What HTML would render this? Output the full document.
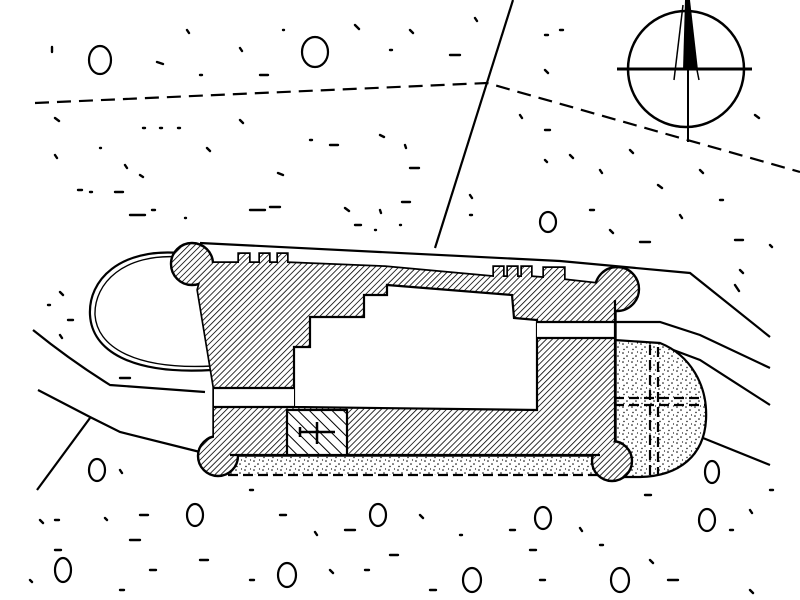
<!DOCTYPE html>
<html><head><meta charset="utf-8"><style>html,body{margin:0;padding:0;background:#fff}svg{display:block}</style></head>
<body>
<svg width="800" height="600" viewBox="0 0 800 600" xmlns="http://www.w3.org/2000/svg">
<defs>
<pattern id="h" width="4.2" height="4.2" patternUnits="userSpaceOnUse" patternTransform="rotate(45)">
<rect width="4.2" height="4.2" fill="#fff"/><line x1="0" y1="0" x2="0" y2="4.2" stroke="#000" stroke-width="1.6"/></pattern>
<pattern id="h2" width="8" height="8" patternUnits="userSpaceOnUse" patternTransform="rotate(-45)">
<rect width="8" height="8" fill="#fff"/><line x1="0" y1="0" x2="0" y2="8" stroke="#000" stroke-width="2"/></pattern>
<pattern id="d" width="9" height="9" patternUnits="userSpaceOnUse">
<rect width="9" height="9" fill="#fff"/><circle cx="2" cy="2" r="0.8" fill="#000"/><circle cx="6" cy="5" r="0.8" fill="#000"/><circle cx="3" cy="7.5" r="0.7" fill="#000"/><circle cx="7.5" cy="1" r="0.6" fill="#000"/></pattern>
</defs>
<g fill="none" stroke="#000" stroke-width="2.2">
<path d="M35 103 L487 83 L800 172" stroke-dasharray="14 8"/>
<path d="M513 0 L435 248"/>
<path d="M200 243 L560 261 L690 273 L770 337"/>
<path d="M614 322 L660 322 L700 335 L770 368"/>
<path d="M660 345 L700 360 L770 405"/>
<path d="M703 438 L770 465"/>
<path d="M33 330 Q70 360 110 385 L205 392"/>
<path d="M38 390 L90 417 L120 432 L200 452"/>
<path d="M90 418 L37 490"/>
<path d="M180 253 C120 248 88 280 90 315 C92 350 130 375 212 370"/>
<path d="M180 257 C124 253 94 283 95 315 C97 346 133 370 212 366" stroke-width="1.4"/>
</g>
<path d="M614 340 L660 343 C690 355 708 385 706 420 C704 455 680 476 640 477 L614 477 Z" fill="url(#d)" stroke="#000" stroke-width="2.2"/>
<rect x="228" y="452" width="380" height="23" fill="url(#d)"/>
<line x1="228" y1="475" x2="600" y2="475" stroke="#000" stroke-width="2.2" stroke-dasharray="10 5"/>
<g stroke="#000" stroke-width="2.2" stroke-dasharray="10 5">
<line x1="650" y1="345" x2="650" y2="475"/><line x1="658" y1="347" x2="658" y2="475"/>
<line x1="614" y1="398" x2="704" y2="398"/><line x1="614" y1="405" x2="705" y2="405"/>
</g>
<!-- fortress -->
<path id="fp" d="M205 263 L239 263 L239 254 L249 254 L249 263 L260 263 L260 254 L269 254 L269 263 L278 263 L278 254 L287 254 L287 263 L385 267 L494 277 L494 267 L503 267 L503 277 L508 277 L508 267 L517 267 L517 277 L522 277 L522 267 L531 267 L531 277 L544 278 L544 268 L564 268 L564 280 L600 284 L615 300 L615 440 L600 455 L230 455 L214 440 L214 387 L198 290 Z" fill="url(#h)" stroke="#000" stroke-width="3.4"/>
<g fill="url(#h)" stroke="#000" stroke-width="2.4">
<circle cx="192" cy="264" r="21"/>
<circle cx="617" cy="289" r="22"/>
<circle cx="218" cy="456" r="20"/>
<circle cx="612" cy="461" r="20"/>
</g>
<path d="M205 263 L239 263 L239 254 L249 254 L249 263 L260 263 L260 254 L269 254 L269 263 L278 263 L278 254 L287 254 L287 263 L385 267 L494 277 L494 267 L503 267 L503 277 L508 277 L508 267 L517 267 L517 277 L522 277 L522 267 L531 267 L531 277 L544 278 L544 268 L564 268 L564 280 L600 284 L615 300 L615 440 L600 455 L230 455 L214 440 L214 387 L198 290 Z" fill="url(#h)" stroke="none"/>
<path d="M294 347 L310 347 L310 317 L364 317 L364 295 L387 295 L387 285 L512 295 L514 318 L537 320 L537 410 L294 407 Z" fill="#fff" stroke="#000" stroke-width="2.2"/>
<rect x="214" y="388" width="80" height="19" fill="#fff"/>
<line x1="213" y1="407" x2="294" y2="407" stroke="#000" stroke-width="2.2"/>
<line x1="213" y1="388" x2="294" y2="388" stroke="#000" stroke-width="2.2"/>
<rect x="537" y="322" width="78" height="16" fill="#fff"/>
<line x1="537" y1="322" x2="615" y2="322" stroke="#000" stroke-width="2.2"/>
<line x1="537" y1="338" x2="615" y2="338" stroke="#000" stroke-width="2.2"/>
<line x1="615" y1="300" x2="615" y2="442" stroke="#000" stroke-width="2.2"/>
<line x1="213" y1="290" x2="213" y2="440" stroke="#000" stroke-width="0" />
<line x1="230" y1="455" x2="600" y2="455" stroke="#000" stroke-width="2.2"/>
<rect x="287" y="410" width="60" height="45" fill="url(#h2)" stroke="#000" stroke-width="2.2"/>
<g stroke="#000" stroke-width="2.5"><line x1="300" y1="432" x2="335" y2="432"/><line x1="317" y1="422" x2="317" y2="444"/><line x1="300" y1="427" x2="300" y2="437"/></g>
<g stroke="#000" fill="none">
<circle cx="686" cy="69" r="58" stroke-width="2.5"/>
<line x1="617" y1="69" x2="752" y2="69" stroke-width="3"/>
<line x1="688" y1="0" x2="688" y2="142" stroke-width="2"/>
<line x1="683" y1="5" x2="674" y2="80" stroke-width="1.5"/>
<line x1="697" y1="70" x2="699" y2="80" stroke-width="1.5"/>
</g>
<path d="M685 0 L690 0 L698 70 L683 70 Z" fill="#000"/>
<g fill="none" stroke="#000" stroke-width="2.2">
<ellipse cx="100" cy="60" rx="11" ry="14"/><ellipse cx="315" cy="52" rx="13" ry="15"/>
<ellipse cx="548" cy="222" rx="8" ry="10"/><ellipse cx="97" cy="470" rx="8" ry="11"/>
<ellipse cx="195" cy="515" rx="8" ry="11"/><ellipse cx="378" cy="515" rx="8" ry="11"/>
<ellipse cx="543" cy="518" rx="8" ry="11"/><ellipse cx="712" cy="472" rx="7" ry="11"/>
<ellipse cx="707" cy="520" rx="8" ry="11"/><ellipse cx="63" cy="570" rx="8" ry="12"/>
<ellipse cx="287" cy="575" rx="9" ry="12"/><ellipse cx="472" cy="580" rx="9" ry="12"/>
<ellipse cx="620" cy="580" rx="9" ry="12"/>
</g>
<g stroke="#000" stroke-width="2.4" stroke-linecap="round">
<path d="M52 47v5M187 30l2 3M157 62l6 2M200 75h2M240 48l2 3M260 75h8M283 30h1M355 25l4 4M390 50h2M410 30l3 3M450 55h10M475 18l2 3M55 118l4 3M143 128h2M160 128h2M178 128h2M240 120l3 3M55 155l2 3M100 148h1M125 165l2 3M207 148l3 3M278 173l5 2M310 140h2M330 145h8M380 135l4 2M405 145l1 3M410 168h9M140 175l3 2M78 190h4M90 192h2M115 192h8M130 215h15M152 210h3M185 218h1M250 210h15M270 207h10M345 208l4 3M380 210l1 3M402 202h8M355 225h6M375 230h1M400 225h1M470 215h2M470 195l2 3M520 115l2 3M545 130h5M570 155l3 3M600 170l2 3M630 150l3 3M658 185l4 3M700 170l3 3M720 200h3M545 160l2 2M590 210h4M610 230l3 3M640 242h10M680 215l2 3M735 240h8M740 270l3 3M735 285l4 6M770 245l2 2M755 115l4 3M545 70l3 3M545 35h3M560 30h3M60 292l3 3M48 305h2M68 320h5M60 335l2 3M120 378h10M40 520l3 3M55 520h4M105 518l2 2M140 515h8M130 540h10M250 490h3M280 515h6M315 532l2 3M345 530h10M420 515l3 3M460 535h2M510 530h5M530 550h6M580 528l2 3M600 545h3M645 495h6M650 560l3 3M668 580h10M730 530h3M750 510l2 3M770 490h3M120 590h4M150 570h6M200 560h8M250 580h4M330 570l3 3M390 555h8M430 590h6M540 580h5M120 470l2 3M365 570h4M55 550h6M30 580l2 2M750 590l3 3"/>
</g>
</svg>
</body></html>
